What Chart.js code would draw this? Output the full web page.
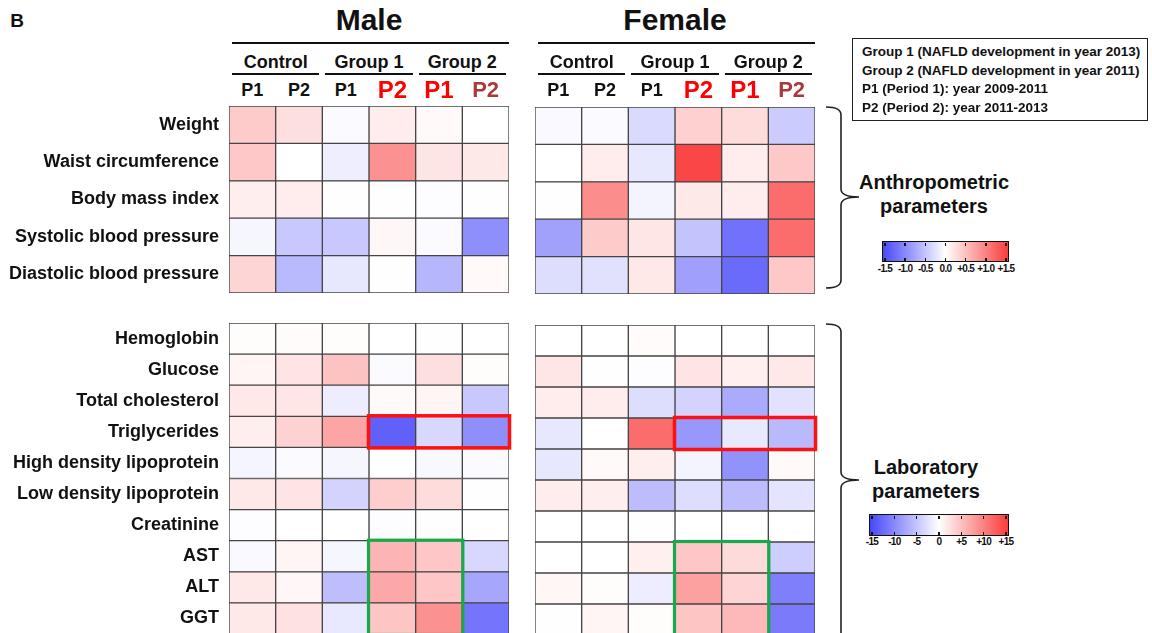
<!DOCTYPE html>
<html><head><meta charset="utf-8">
<script src="https://cdn.jsdelivr.net/npm/chart.js@4.4.1/dist/chart.umd.min.js"></script>
<style>
html,body{margin:0;padding:0;background:#fff;overflow:hidden;width:1152px;height:633px;}
body{position:relative;font-family:Arial,"Liberation Sans",Helvetica,sans-serif;color:#111;}
canvas{position:absolute;}
.t{position:absolute;white-space:nowrap;font-weight:bold;line-height:1;transform:translate(-50%,-50%);}
.hl{position:absolute;background:#111;height:2px;}
.legend{position:absolute;left:852px;top:38px;width:294px;height:81px;border:1.5px solid #222;}
.legend div{position:absolute;left:9px;white-space:nowrap;font-weight:bold;font-size:13.5px;line-height:1;transform:translateY(-50%);}
.cbar{position:absolute;border:1.5px solid #111;box-sizing:border-box;background:linear-gradient(to right,rgb(72,72,250),#fff,rgb(250,60,60));}
.tick{position:absolute;width:1.5px;height:3px;background:#111;}
.cl{position:absolute;white-space:nowrap;font-weight:bold;font-size:10px;letter-spacing:-0.7px;line-height:1;transform:translate(-50%,-50%);}
svg{position:absolute;left:0;top:0;}
</style></head><body>
<script>
// ---------------- data ----------------
const columns = ['Control P1','Control P2','Group 1 P1','Group 1 P2','Group 2 P1','Group 2 P2'];
const groupLabels = ['Control','Group 1','Group 2'];
const periodLabels = ['P1','P2','P1','P2','P1','P2'];
const anthroRows = ['Weight','Waist circumference','Body mass index','Systolic blood pressure','Diastolic blood pressure'];
const labRows = ['Hemoglobin','Glucose','Total cholesterol','Triglycerides','High density lipoprotein','Low density lipoprotein','Creatinine','AST','ALT','GGT'];

const maleAnthro = [
  [0.40, 0.25, -0.04, 0.15, 0.05, 0.00],
  [0.42, 0.00, -0.14, 0.85, 0.20, 0.17],
  [0.13, 0.14, 0.01, 0.01, -0.02, 0.01],
  [-0.07, -0.45, -0.45, 0.06, -0.03, -0.93],
  [0.32, -0.57, -0.20, 0.01, -0.60, 0.05]
];
const femaleAnthro = [
  [-0.05, -0.04, -0.30, 0.36, 0.27, -0.43],
  [0.00, 0.15, -0.20, 1.42, 0.15, 0.42],
  [0.01, 0.88, -0.09, 0.17, 0.15, 1.13],
  [-0.77, 0.40, 0.19, -0.48, -1.16, 1.12],
  [-0.28, -0.25, 0.18, -0.78, -1.22, 0.42]
];
const maleLab = [
  [0.2, 0.3, 0.2, 0.0, 0.1, 0.0],
  [0.8, 2.1, 4.6, -0.3, 2.5, 0.2],
  [1.8, 1.9, -1.5, 0.5, 0.8, -4.5],
  [1.3, 3.5, 6.9, -13.0, -3.2, -9.2],
  [-0.8, -0.3, -0.7, 0.0, -0.6, -0.3],
  [1.8, 2.1, -3.6, 3.8, 2.7, 0.1],
  [-0.2, 0.0, 0.0, -0.2, -0.1, 0.0],
  [-0.5, 0.8, -0.7, 5.8, 4.4, -3.2],
  [1.8, 0.6, -5.3, 6.7, 4.4, -7.3],
  [1.8, 2.3, -1.9, 4.5, 8.5, -11.3]
];
const femaleLab = [
  [0.0, 0.0, 0.3, 0.0, 0.0, 0.0],
  [1.9, 0.1, -0.2, 2.1, 1.2, 1.8],
  [1.5, 1.5, -2.8, -3.6, -6.9, -2.4],
  [-2.0, 0.0, 11.3, -8.5, -1.9, -5.7],
  [-2.0, 0.5, 1.3, -0.9, -8.9, 0.5],
  [1.5, 1.3, -5.4, -2.8, -5.4, -2.2],
  [0.0, 0.0, 0.1, 0.0, 0.0, 0.0],
  [0.0, 0.0, 1.2, 4.4, 2.8, -4.1],
  [0.7, 0.2, -1.5, 7.3, 3.3, -10.5],
  [0.1, 0.8, 0.2, 4.5, 5.4, -10.9]
];
const anthroMax = 1.5;
const labMax = 15;
const anthroTicks = ['-1.5','-1.0','-0.5','0.0','+0.5','+1.0','+1.5'];
const labTicks = ['-15','-10','-5','0','+5','+10','+15'];
const legendLines = ['Group 1 (NAFLD development in year 2013)','Group 2 (NAFLD development in year 2011)','P1 (Period 1): year 2009-2011','P2 (Period 2): year 2011-2013'];
// highlighted blocks: [row0,row1,col0,col1]
const tgBox = [3, 3, 3, 5];
const liverBox = [7, 9, 3, 4];

// ---------------- helpers ----------------
const FONT = 'Arial, "Liberation Sans", Helvetica, sans-serif';
Chart.defaults.font.family = FONT;
const NEG = [72,72,250], POS = [250,60,60];
function heatColor(v, max){
  const t = Math.max(-1, Math.min(1, v/max));
  const end = t >= 0 ? POS : NEG; const a = Math.abs(t);
  const c = end.map(e => Math.round(255 + (e-255)*a));
  return 'rgb(' + c.join(',') + ')';
}
function el(cls, text, style){
  const d = document.createElement('div'); d.className = cls;
  if (text !== undefined) d.textContent = text;
  Object.assign(d.style, style || {}); document.body.appendChild(d); return d;
}

const boxPlugin = {
  id: 'boxes',
  afterDatasetsDraw(chart, args, opts){
    const ctx = chart.ctx;
    (opts.list || []).forEach(b => {
      const [r0, r1, c0, c1] = b.cells;
      const e0 = chart.getDatasetMeta(c0).data[r0];
      const e1 = chart.getDatasetMeta(c1).data[r1];
      const x0 = Math.min(e0.base, e0.x), x1 = Math.max(e1.base, e1.x);
      const y0 = e0.y - e0.height/2, y1 = e1.y + e1.height/2;
      ctx.save(); ctx.strokeStyle = b.color; ctx.lineWidth = b.width;
      const o = b.out || 0;
      ctx.strokeRect(x0 - o, y0 - o, x1 - x0 + 2*o, y1 - y0 + 2*o);
      ctx.restore();
    });
  }
};

function heat(left, top, w, h, pad, rows, values, max, showLabels, boxes){
  const cv = document.createElement('canvas');
  cv.width = w; cv.height = h;
  cv.style.left = left + 'px'; cv.style.top = top + 'px';
  cv.style.width = w + 'px'; cv.style.height = h + 'px';
  document.body.appendChild(cv);
  const datasets = columns.map((c, j) => ({
    label: c,
    data: rows.map(() => 1),
    backgroundColor: rows.map((r, i) => heatColor(values[i][j], max)),
    borderColor: '#454545', borderWidth: 1, borderSkipped: false,
    barPercentage: 1, categoryPercentage: 1
  }));
  return new Chart(cv, {
    type: 'bar',
    data: { labels: rows, datasets },
    options: {
      indexAxis: 'y', responsive: false, animation: false, devicePixelRatio: 1,
      layout: { padding: pad },
      plugins: { legend: { display: false }, tooltip: { enabled: false }, boxes: { list: boxes } },
      scales: {
        x: { type: 'linear', stacked: true, min: 0, max: 6, display: false },
        y: {
          stacked: true, display: showLabels !== false,
          grid: { display: false, drawTicks: false }, border: { display: false },
          ticks: { color: '#111', autoSkip: false, padding: 10, font: { size: 18, weight: 'bold', family: FONT } },
          afterFit: s => { if (showLabels) { s.width = showLabels; s.paddingTop = 0; s.paddingBottom = 0; } }
        }
      }
    },
    plugins: [boxPlugin]
  });
}

// ---------------- charts ----------------
const red = { color: '#ff1010', width: 3.5, out: 0.5 };
const green = { color: '#18aa4a', width: 3.2, out: 0.5 };
heat(0, 101, 514, 197, {top:5,right:5,bottom:5,left:0}, anthroRows, maleAnthro, anthroMax, 229, []);
heat(530, 102, 290, 197, 5, anthroRows, femaleAnthro, anthroMax, false, []);
heat(0, 318, 514, 321, {top:5,right:5,bottom:5,left:0}, labRows, maleLab, labMax, 229,
  [Object.assign({cells: tgBox}, red), Object.assign({cells: liverBox}, green)]);
heat(530, 320, 290, 320, 5, labRows, femaleLab, labMax, false,
  [Object.assign({cells: tgBox}, red), Object.assign({cells: liverBox}, green)]);

// ---------------- headers ----------------
el('t', 'B', {left:'17px', top:'20px', fontSize:'19px'});
const periodStyle = [
  {c:'#111', s:18}, {c:'#111', s:18}, {c:'#111', s:18},
  {c:'#ff0000', s:24}, {c:'#ff0000', s:24}, {c:'#a83a3a', s:22}
];
function header(gx, title){
  const gw = 280, cw = gw/6;
  el('t', title, {left:(gx+gw/2)+'px', top:'19.5px', fontSize:'30px'});
  el('hl', undefined, {left:(gx+3)+'px', top:'42px', width:(gw-3)+'px'});
  groupLabels.forEach((g, k) => {
    el('t', g, {left:(gx + cw*(2*k+1))+'px', top:'61.5px', fontSize:'18px'});
    el('hl', undefined, {left:(gx + cw*2*k + 3)+'px', top:'72.5px', width:(cw*2 - 6)+'px'});
  });
  periodLabels.forEach((p, j) => {
    el('t', p, {left:(gx + cw*(j+0.5))+'px', top:'90px', fontSize:periodStyle[j].s+'px', color:periodStyle[j].c});
  });
}
header(229, 'Male');
header(535, 'Female');

// legend box
const lg = el('legend');
legendLines.forEach((s, i) => {
  const d = document.createElement('div'); d.textContent = s;
  d.style.top = (13 + i*18.7) + 'px'; lg.appendChild(d);
});

// group labels
el('t', 'Anthropometric', {left:'934px', top:'182px', fontSize:'20px'});
el('t', 'parameters', {left:'934px', top:'206px', fontSize:'20px'});
el('t', 'Laboratory', {left:'926px', top:'467px', fontSize:'20px'});
el('t', 'parameters', {left:'926px', top:'491px', fontSize:'20px'});

// colour bars
function cbar(left, top, w, h, labels, ly){
  el('cbar', undefined, {left:left+'px', top:top+'px', width:w+'px', height:h+'px'});
  labels.forEach((s, i) => {
    const x = left + 3 + i*(w-6)/6;
    el('tick', undefined, {left:(x-0.75)+'px', top:(top+1.5)+'px'});
    el('tick', undefined, {left:(x-0.75)+'px', top:(top+h-4.5)+'px'});
    el('cl', s, {left:x+'px', top:ly+'px'});
  });
}
cbar(882, 241, 127, 21, anthroTicks, 269);
cbar(869, 514, 140, 22, labTicks, 542);

// braces
const svgNS = 'http://www.w3.org/2000/svg';
const svg = document.createElementNS(svgNS, 'svg');
svg.setAttribute('width', 1152); svg.setAttribute('height', 633);
function brace(top, mid, bottom){
  const p = document.createElementNS(svgNS, 'path');
  p.setAttribute('d', `M 826 ${top} Q 841 ${top} 841 ${top+8} L 841 ${mid-8} Q 841 ${mid} 859 ${mid} Q 841 ${mid} 841 ${mid+8} L 841 ${bottom-8} Q 841 ${bottom} 826 ${bottom}`);
  p.setAttribute('fill', 'none'); p.setAttribute('stroke', '#222'); p.setAttribute('stroke-width', '1.6');
  svg.appendChild(p);
}
brace(107, 197, 288);
brace(324, 480, 660);
document.body.appendChild(svg);
</script>
</body></html>
